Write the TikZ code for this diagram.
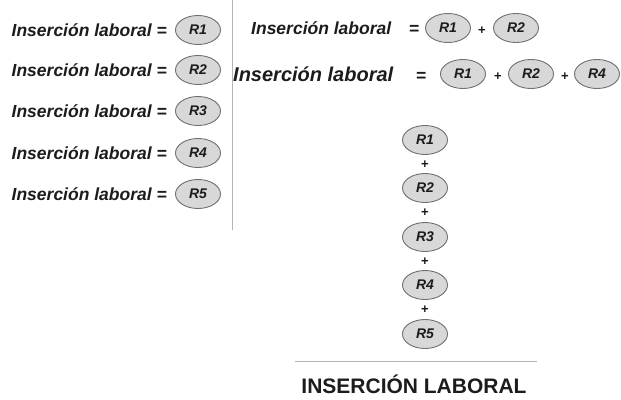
\documentclass[tikz,border=0pt]{standalone}
\usepackage{fontspec}
\setmainfont{Liberation Sans}
\usepackage{tikz}
\usetikzlibrary{shapes.geometric}
\definecolor{elfill}{HTML}{D8D8D8}
\definecolor{eldraw}{HTML}{707070}
\definecolor{rulegray}{HTML}{B4B4B4}
\definecolor{ink}{HTML}{1C1C1C}

\begin{document}
\begin{tikzpicture}[x=1pt,y=-1pt,
    res/.style={draw=eldraw, fill=elfill, ellipse, line width=.9pt,
      minimum width=45pt, minimum height=29pt, inner sep=0pt,
      text=ink, font=\fontsize{14}{16}\selectfont\bfseries\itshape},
    eqtext/.style={inner sep=0pt, text=ink,
      font=\fontsize{17.5}{21}\selectfont\bfseries\itshape},
    bigtext/.style={inner sep=0pt, text=ink,
      font=\fontsize{20}{24}\selectfont\bfseries\itshape},
    plus/.style={inner sep=0pt, text=ink,
      font=\fontsize{13}{15}\selectfont\bfseries}]
      \useasboundingbox (0,0) rectangle (621,399);

      % one result at a time
      \node (l1) at (167,30) [eqtext, anchor=east] {Inserción laboral =};
      \node (l2) at (167,70) [eqtext, anchor=east] {Inserción laboral =};
      \node (l3) at (167,111) [eqtext, anchor=east] {Inserción laboral =};
      \node (l4) at (167,153) [eqtext, anchor=east] {Inserción laboral =};
      \node (l5) at (167,194) [eqtext, anchor=east] {Inserción laboral =};

      \node (lr1) at (198,30) [res] {R1};
      \node (lr2) at (198,70) [res] {R2};
      \node (lr3) at (198,111) [res] {R3};
      \node (lr4) at (198,153) [res] {R4};
      \node (lr5) at (198,194) [res] {R5};

      \coordinate (divtop) at (232,0);
      \coordinate (divbot) at (232,230);
      \draw[rulegray, line width=1pt] (divtop) -- (divbot);

      % two results
      \node (a) at (251,34) [eqtext, anchor=base west] {Inserción laboral};
      \node (aeq) at (414,34) [eqtext, anchor=base] {=};
      \node (ar1) at (448,28) [res] {R1};
      \node (ap1) at (482,31) [plus] {+};
      \node (ar2) at (516,28) [res] {R2};

      % three results
      \node (b) at (233,81) [bigtext, anchor=base west] {Inserción laboral};
      \node (beq) at (421,81) [eqtext, anchor=base] {=};
      \node (br1) at (463,74) [res] {R1};
      \node (bp1) at (498,77) [plus] {+};
      \node (br2) at (531,74) [res] {R2};
      \node (bp2) at (565,77) [plus] {+};
      \node (br4) at (597,74) [res] {R4};

      % all results
      \node (cr1) at (425,140) [res] {R1};
      \node (cp1) at (425,165) [plus] {+};
      \node (cr2) at (425,188) [res] {R2};
      \node (cp2) at (425,213) [plus] {+};
      \node (cr3) at (425,237) [res] {R3};
      \node (cp3) at (425,262) [plus] {+};
      \node (cr4) at (425,285) [res] {R4};
      \node (cp4) at (425,310) [plus] {+};
      \node (cr5) at (425,334) [res] {R5};

      \coordinate (sumL) at (295,361);
      \coordinate (sumR) at (537,361);
      \draw[rulegray, line width=1pt] (sumL) -- (sumR);

      \node (total) at (414,384) [inner sep=0pt, text=ink,
        font=\fontsize{21}{25}\selectfont\bfseries] {INSERCIÓN LABORAL};
    \end{tikzpicture}
\end{document}
